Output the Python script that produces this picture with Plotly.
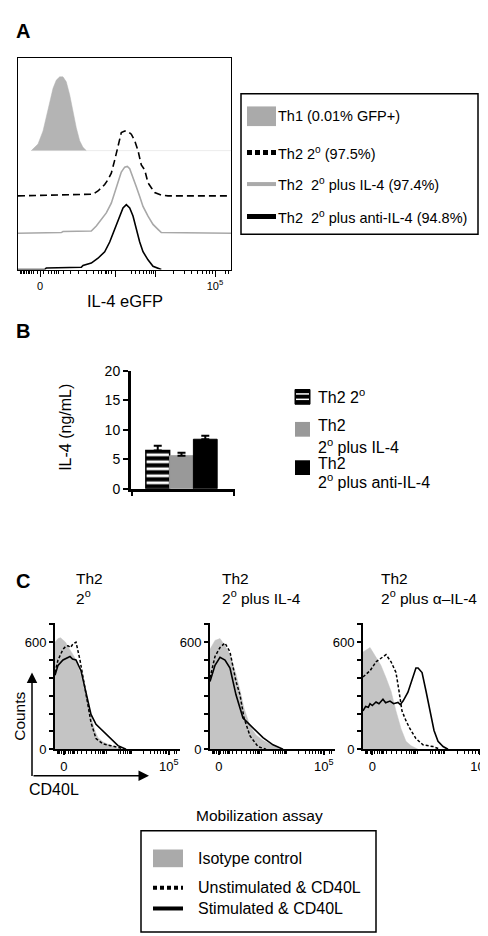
import plotly.graph_objects as go

W, H = 488, 936
def X(px): return px / W
def Y(py): return 1 - py / H

FONT = "Liberation Sans, Arial, Helvetica, sans-serif"

# ---------------- Panel A data (channel units, % of max) ----------------
a_th1_x = [13.3, 20, 25, 28.3, 31.7, 35, 38.3, 41.7, 45, 48.3, 51.7, 55, 58.3, 61.7, 65, 68.3]
a_th1_y = [0, 8.9, 26.7, 44.4, 66.7, 84.4, 95.6, 100, 100, 93.3, 75.6, 53.3, 31.1, 13.3, 4.4, 0]
a_dash_x = [0, 40, 75, 80, 86.7, 90, 93.3, 96.7, 100, 103.3, 106.7, 110, 113.3, 116.7, 120,
            123.3, 126.7, 130, 133.3, 136.7, 143.3, 150, 210]
a_dash_y = [0, 1, 2.5, 7.5, 17.5, 25, 35, 55, 75, 97.5, 100, 99, 95, 85, 70, 47.5, 40, 20,
            12.5, 5, 1, 0, 0]
a_grey_x = [0, 43.3, 45, 73.3, 78.3, 83.3, 88.3, 93.3, 96.7, 100, 103.3, 106.7, 109.3, 111.7,
            115, 118.3, 121.7, 125, 130, 135, 140, 143.3, 213]
a_grey_y = [0, 1, 2.5, 3.4, 10.8, 20.6, 30.4, 45.1, 59.8, 74.5, 91.7, 99, 100, 96.6, 84.3,
            69.6, 54.9, 40.2, 25.5, 13.2, 5.9, 1, 0]
a_solid_x = [0, 26.7, 28.3, 63.3, 65, 73.3, 80, 86.7, 91.7, 96.7, 101.7, 105, 108.3, 111.7,
             115, 118.3, 121.7, 125, 130, 135, 140, 143.3]
a_solid_y = [0, 0, 2.5, 3.5, 6.5, 10, 17.5, 27.5, 42.5, 62.5, 82.5, 95, 100, 95, 82.5, 62.5,
             42.5, 27.5, 15, 5, 1.5, 0]
a_legend = ["Th1 (0.01% GFP+)", "Th2 2<sup>o</sup> (97.5%)",
            "Th2  2<sup>o</sup> plus IL-4 (97.4%)", "Th2  2<sup>o</sup> plus anti-IL-4 (94.8%)"]
a_major_ticks = [22, 97, 137, 197]
a_major_text = ["0", "", "", "10<sup>5</sup>"]
a_minor_ticks = [2, 3.5, 5, 6.5, 8, 10, 11.5, 13, 15, 19, 25, 30, 33, 36, 38, 40, 45, 52, 60,
                 68, 75, 80, 83, 87, 88.5, 90, 93, 113, 117, 121, 125, 128, 131, 133, 135,
                 155, 166, 173, 179, 184, 188, 191, 194, 207, 210]

# ---------------- Panel B data ----------------
b_groups = ["Th2 2<sup>o</sup>", "Th2 2<sup>o</sup> plus IL-4", "Th2 2<sup>o</sup> plus anti-IL-4"]
b_means = [6.5, 5.6, 8.4]
b_err = [0.8, 0.5, 0.6]
b_ticks = [0, 5, 10, 15, 20]

# ---------------- Panel C data (display units 0-100, counts) ----------------
c_titles = ["2<sup>o</sup>", "2<sup>o</sup> plus IL-4", "2<sup>o</sup> plus \u03b1\u2013IL-4"]
c1_iso_x = [0, 2.4, 4.4, 6.4, 8.4, 10.4, 12.4, 14.4, 16.4, 18.4, 20.4, 22.4, 24.4, 26.4, 28.4,
            30.4, 32.4, 34.4, 36.4, 38.4, 42.4, 46.4, 50, 52]
c1_iso_y = [600, 620, 625, 615, 600, 575, 555, 530, 505, 470, 420, 360, 305, 250, 195, 140, 95,
            65, 50, 40, 28, 15, 5, 0]
c1_uns_x = [0, 2.4, 6.4, 8.4, 10.4, 12.4, 14.4, 16.8, 20, 22.4, 26.4, 28.8, 32.8, 38.4, 44.8, 56]
c1_uns_y = [430, 500, 560, 575, 580, 570, 590, 600, 500, 410, 260, 150, 60, 30, 20, 0]
c1_sti_x = [0, 2.4, 6.4, 9, 12, 14, 16.8, 20.8, 24.8, 28.8, 32.8, 38.4, 44, 50.4, 56.8]
c1_sti_y = [415, 470, 500, 510, 520, 505, 500, 440, 320, 195, 140, 100, 60, 20, 0]

c2_iso_x = [0, 4, 8, 12, 16, 20.8, 24, 27.2, 32, 36.8, 42.4, 48, 52.8, 56]
c2_iso_y = [560, 610, 620, 580, 530, 420, 330, 230, 130, 80, 50, 30, 10, 0]
c2_uns_x = [0, 4, 8, 10, 12, 16, 20.8, 24, 27.2, 32, 38.4, 44.8]
c2_uns_y = [400, 520, 570, 585, 595, 545, 380, 305, 175, 75, 15, 0]
c2_sti_x = [0, 4, 8, 12, 16, 20.8, 26.4, 34.4, 42.4, 50.4, 58.4]
c2_sti_y = [380, 470, 515, 500, 455, 305, 175, 120, 65, 25, 0]

c3_iso_x = [0, 5.3, 9.8, 13.5, 17.3, 21.1, 24.8, 28.6, 32.3, 36.1, 41.4]
c3_iso_y = [545, 570, 515, 470, 400, 325, 215, 115, 45, 20, 0]
c3_uns_x = [0, 5.3, 9.8, 13.5, 17.3, 21.1, 24.8, 27.1, 29.3, 32.3, 35.3, 39.8, 45.1, 52.6, 57.9]
c3_uns_y = [405, 440, 490, 510, 530, 490, 430, 325, 215, 160, 115, 60, 25, 15, 0]
c3_sti_x = [0, 2, 4, 5.3, 7, 9.8, 12, 15, 17, 20.3, 23, 26.3, 28, 30.1, 33.8, 37.6, 39.8, 41.4,
            44.4, 47.4, 50.4, 53.4, 56.4, 60.2, 63.9]
c3_sti_y = [215, 240, 235, 255, 245, 265, 255, 280, 260, 270, 255, 262, 250, 270, 320, 400, 455,
            455, 430, 325, 215, 105, 45, 15, 0]
c_legend = ["Isotype control", "Unstimulated & CD40L", "Stimulated & CD40L"]

# ---------------- styles ----------------
A_BASE = {"th1": 56.3, "dash": 34.9, "grey": 17.2, "solid": 0}
A_SCALE = {"th1": 34.9, "dash": 30.7, "grey": 31.6, "solid": 30.7}

def stack(vals, key):
    return [A_BASE[key] + v / 100 * A_SCALE[key] for v in vals]

fig = go.Figure()

# Panel A
fig.add_trace(go.Scatter(x=[a_th1_x[0], 213], y=[A_BASE["th1"]] * 2, mode="lines",
                         line=dict(color="#ececec", width=1), xaxis="x", yaxis="y"))
fig.add_trace(go.Scatter(x=a_th1_x, y=stack(a_th1_y, "th1"), mode="lines", fill="toself",
                         fillcolor="#b4b4b4", line=dict(color="#b4b4b4", width=0.5),
                         xaxis="x", yaxis="y"))
fig.add_trace(go.Scatter(x=a_dash_x, y=stack(a_dash_y, "dash"), mode="lines",
                         line=dict(color="black", width=1.6, dash="7px,4px"), xaxis="x", yaxis="y"))
fig.add_trace(go.Scatter(x=a_grey_x, y=stack(a_grey_y, "grey"), mode="lines",
                         line=dict(color="#a8a8a8", width=1.6), xaxis="x", yaxis="y"))
fig.add_trace(go.Scatter(x=a_solid_x, y=stack(a_solid_y, "solid"), mode="lines",
                         line=dict(color="black", width=1.6), xaxis="x", yaxis="y"))

# Panel B
b_styles = [
    dict(color="white", line=dict(color="black", width=1.5),
         pattern=dict(shape="-", fgcolor="black", bgcolor="white", fgopacity=1,
                      fillmode="replace", size=7, solidity=0.6)),
    dict(color="#999999", line=dict(color="#999999", width=1)),
    dict(color="black", line=dict(color="black", width=1)),
]
for i in range(3):
    fig.add_trace(go.Bar(x=[i], y=[b_means[i]], width=1, marker=b_styles[i],
                         error_y=dict(type="data", array=[b_err[i]], arrayminus=[0],
                                      symmetric=False, color="black", thickness=2, width=4),
                         xaxis="x2", yaxis="y2"))

# Panel C
c_sets = [(c1_iso_x, c1_iso_y, c1_uns_x, c1_uns_y, c1_sti_x, c1_sti_y),
          (c2_iso_x, c2_iso_y, c2_uns_x, c2_uns_y, c2_sti_x, c2_sti_y),
          (c3_iso_x, c3_iso_y, c3_uns_x, c3_uns_y, c3_sti_x, c3_sti_y)]
for k, (ix, iy, ux, uy, sx, sy) in enumerate(c_sets):
    xa, ya = "x%d" % (k + 3), "y%d" % (k + 3)
    fig.add_trace(go.Scatter(x=ix, y=iy, mode="lines", fill="tozeroy", fillcolor="#c4c4c4",
                             line=dict(color="#c4c4c4", width=0.5), xaxis=xa, yaxis=ya))
    fig.add_trace(go.Scatter(x=ux, y=uy, mode="lines",
                             line=dict(color="black", width=1.5, dash="3px,2px"), xaxis=xa, yaxis=ya))
    fig.add_trace(go.Scatter(x=sx, y=sy, mode="lines",
                             line=dict(color="black", width=1.6), xaxis=xa, yaxis=ya))

c_major = [7 + (t - 22) * 0.48 for t in a_major_ticks]
c_minor = [7 + (t - 22) * 0.48 for t in a_minor_ticks if 7 + (t - 22) * 0.48 > 1]
c_top_tick = [91, 91, 88]

tickfont = dict(family=FONT, size=11, color="black")
ctickfont = dict(family=FONT, size=13, color="black")
layout = dict(
    width=W, height=H, margin=dict(l=0, r=0, t=0, b=0),
    paper_bgcolor="white", plot_bgcolor="white", showlegend=False,
    font=dict(family=FONT, color="black"), barmode="overlay",
    xaxis=dict(domain=[X(10), X(223)], range=[0, 213], showline=True, mirror=True,
               linecolor="black", linewidth=1, showgrid=False, zeroline=False,
               tickmode="array", tickvals=a_major_ticks, ticktext=a_major_text,
               ticks="outside", ticklen=6, tickwidth=1, tickcolor="black", tickfont=tickfont,
               minor=dict(tickmode="array", tickvals=a_minor_ticks, ticks="outside",
                          ticklen=3.5, tickwidth=1, tickcolor="black", showgrid=False),
               anchor="y", fixedrange=True),
    yaxis=dict(domain=[Y(258), Y(43)], range=[0, 100], showline=True, mirror=True,
               linecolor="black", linewidth=1, showgrid=False, zeroline=False,
               showticklabels=False, ticks="", anchor="x"),
    xaxis2=dict(domain=[X(123), X(227)], range=[-1.125, 3.25], showline=True,
                linecolor="black", linewidth=3, showgrid=False, zeroline=False,
                tickmode="array", tickvals=[-1.1, 3.22], showticklabels=False,
                ticks="outside", ticklen=4, tickwidth=2, tickcolor="black", anchor="y2"),
    yaxis2=dict(domain=[Y(481), Y(361)], range=[0, 20], showline=True,
                linecolor="black", linewidth=3, showgrid=False, zeroline=False,
                tickmode="array", tickvals=b_ticks, ticks="outside", ticklen=5, tickwidth=2,
                tickcolor="black", tickfont=dict(family=FONT, size=14, color="black"),
                anchor="x2"),
)
c_xdom = [(47, 172), (202, 327), (355, 488)]
for k in range(3):
    layout["xaxis%d" % (k + 3)] = dict(
        domain=[X(c_xdom[k][0]), X(c_xdom[k][1])], range=[0, 100], showline=True,
        linecolor="black", linewidth=2, showgrid=False, zeroline=False,
        tickmode="array", tickvals=[c_major[0], c_top_tick[k]], ticktext=["0", "10<sup>5</sup>"],
        ticks="outside", ticklen=4, tickwidth=1.5, tickcolor="black", tickfont=ctickfont,
        minor=dict(tickmode="array", tickvals=c_minor[1:], ticks="outside", ticklen=2.5,
                   tickwidth=1.2, tickcolor="black", showgrid=False),
        anchor="y%d" % (k + 3))
    layout["yaxis%d" % (k + 3)] = dict(
        domain=[Y(746), Y(618)], range=[0, 705], showline=True,
        linecolor="black", linewidth=2, showgrid=False, zeroline=False,
        tickmode="array", tickvals=[0, 600], ticktext=["0", "600"],
        ticks="outside", ticklen=4, tickwidth=1.5, tickcolor="black", tickfont=ctickfont,
        minor=dict(tickmode="array", tickvals=[100, 200, 300, 400, 500, 700], ticks="outside",
                   ticklen=4, tickwidth=1.5, tickcolor="black", showgrid=False),
        anchor="x%d" % (k + 3))
fig.update_layout(**layout)

ann = []
def text(px, py, s, size, xanchor="left", bold=False, angle=0):
    ann.append(dict(x=X(px), y=Y(py), xref="paper", yref="paper", text=("<b>%s</b>" % s) if bold else s,
                    showarrow=False, xanchor=xanchor, yanchor="middle", textangle=angle,
                    font=dict(family=FONT, size=size, color="black")))

# Panel labels
text(15, 15, "A", 20, "center", True)
text(15, 320, "B", 20, "center", True)
text(15, 575, "C", 20, "center", True)
# Panel A
text(117, 290, "IL-4 eGFP", 16.5, "center")
for s, py in zip(a_legend, [102, 139, 171, 204]):
    text(268, py, s, 14.5)
# Panel B
text(58, 419, "IL-4 (ng/mL)", 16, "center", angle=-90)
text(308, 387, "Th2 2<sup>o</sup>", 16)
text(308, 417, "Th2", 16)
text(308, 437, b_groups[1].replace("Th2 ", ""), 16)
text(308, 455, "Th2", 16)
text(308, 473, b_groups[2].replace("Th2 ", ""), 16)
# Panel C
for s, px in zip(c_titles, [66, 212, 371]):
    text(px, 572, "Th2", 15.5)
    text(px, 591, s, 15.5)
text(12, 713, "Counts", 15.5, "center", angle=-90)
text(46, 787, "CD40L", 16, "center")
text(251, 813, "Mobilization assay", 15.5, "center")
for s, py in zip(c_legend, [857, 887, 908]):
    text(188, py, s, 16)

# arrows
ann.append(dict(x=X(24), y=Y(668), xref="paper", yref="paper", ax=0, ay=105, axref="pixel",
                ayref="pixel", text="", showarrow=True, arrowhead=2, arrowsize=1.4,
                arrowwidth=1.5, arrowcolor="black"))
ann.append(dict(x=X(141), y=Y(773), xref="paper", yref="paper", ax=-117, ay=0, axref="pixel",
                ayref="pixel", text="", showarrow=True, arrowhead=2, arrowsize=1.4,
                arrowwidth=1.5, arrowcolor="black"))
fig.update_layout(annotations=ann)

shapes = []
def rect(x0, y0, x1, y1, fill=None, line_color="black", lw=0):
    shapes.append(dict(type="rect", xref="paper", yref="paper", x0=X(x0), x1=X(x1), y0=Y(y1), y1=Y(y0),
                       fillcolor=fill if fill else "rgba(0,0,0,0)",
                       line=dict(color=line_color, width=lw)))
def hline(x0, x1, py, color, width, dash="solid"):
    shapes.append(dict(type="line", xref="paper", yref="paper", x0=X(x0), x1=X(x1), y0=Y(py), y1=Y(py),
                       line=dict(color=color, width=width, dash=dash)))

# Legend A
rect(233, 79, 470, 222, lw=1.5)
rect(239, 92, 268, 112, fill="#aaaaaa")
hline(239, 268, 139, "black", 5, "5px,3px")
hline(239, 268, 171, "#aaaaaa", 4)
hline(239, 268, 204, "black", 5)
# Legend B
rect(287, 380, 302, 395, fill="black", line_color="black", lw=1)
hline(288, 301, 384.5, "white", 1.5)
hline(288, 301, 390, "white", 1.5)
rect(287, 413, 302, 428, fill="#999999")
rect(287, 452, 302, 467, fill="black")
# Legend C
rect(133, 829, 368, 932, lw=1.5)
rect(145, 848, 175, 866, fill="#aaaaaa")
hline(145, 175, 887, "black", 4, "4px,3px")
hline(145, 175, 908, "black", 4)
fig.update_layout(shapes=shapes)

fig.write_html("out.html")
